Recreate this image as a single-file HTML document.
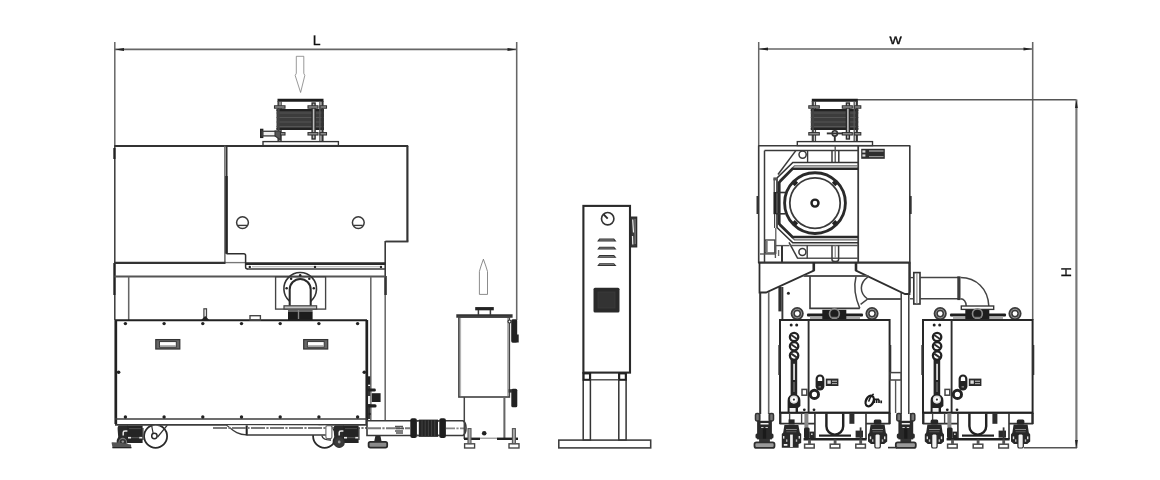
<!DOCTYPE html>
<html lang="en">
<head>
<meta charset="utf-8">
<title>Dimension drawing</title>
<style>
html,body{margin:0;padding:0;background:#fff;}
body{width:1160px;height:480px;overflow:hidden;font-family:"Liberation Sans",sans-serif;}
svg{display:block;filter:grayscale(1) blur(0.45px);}
svg text{text-rendering:geometricPrecision;font-family:"Liberation Sans",sans-serif;}
</style>
</head>
<body>
<svg width="1160" height="480" viewBox="0 0 1160 480">
<rect x="0" y="0" width="1160" height="480" fill="#fff"/>
<line x1="114.8" y1="42" x2="114.8" y2="146" stroke="#666" stroke-width="1.5" />
<line x1="516.7" y1="42" x2="516.7" y2="320" stroke="#666" stroke-width="1.56" />
<line x1="115" y1="49.4" x2="516.5" y2="49.4" stroke="#666" stroke-width="1.63" />
<path d="M115.3 49.4 L124 47.9 L124 50.9 Z" stroke="#3a3a3a" stroke-width="0.0" fill="#222" />
<path d="M516.2 49.4 L507.5 47.9 L507.5 50.9 Z" stroke="#3a3a3a" stroke-width="0.0" fill="#222" />
<text x="316.7" y="44.5" font-size="14" text-anchor="middle" fill="#111" stroke="#111" stroke-width="0.3">L</text>
<path d="M296.3 56.3 H303.8 V73.3 L304.8 75.5 L300.6 92.5 L295.2 75.5 L296.3 73.3 Z" stroke="#777" stroke-width="0.75" fill="none" />
<path d="M479.4 294.4 V271.5 L481 266 L483.4 259.2 L485.8 266 L487.5 271.5 V294.4 Z" stroke="#666" stroke-width="0.75" fill="none" />
<line x1="277.5" y1="100.3" x2="323.5" y2="100.3" stroke="#1e1e1e" stroke-width="2.99" />
<rect x="276.5" y="109.5" width="47.5" height="20" stroke="#3a3a3a" stroke-width="0.0" fill="#3c3c3c" />
<line x1="276.5" y1="113" x2="324.0" y2="113" stroke="#555" stroke-width="1.09" />
<line x1="276.5" y1="117.5" x2="324.0" y2="117.5" stroke="#555" stroke-width="1.09" />
<line x1="276.5" y1="122" x2="324.0" y2="122" stroke="#555" stroke-width="1.09" />
<line x1="276.5" y1="126.5" x2="324.0" y2="126.5" stroke="#555" stroke-width="1.09" />
<line x1="276.5" y1="110" x2="324.0" y2="110" stroke="#222" stroke-width="1.9" />
<line x1="276.5" y1="129" x2="324.0" y2="129" stroke="#222" stroke-width="1.9" />
<line x1="278.5" y1="101" x2="278.5" y2="141" stroke="#444" stroke-width="2.18" />
<line x1="281.1" y1="101" x2="281.1" y2="109" stroke="#444" stroke-width="1.36" />
<line x1="281.1" y1="130" x2="281.1" y2="141" stroke="#444" stroke-width="1.36" />
<rect x="312.1" y="103" width="3" height="36" stroke="#2a2a2a" stroke-width="1.36" fill="#bbb" />
<line x1="322.5" y1="101" x2="322.5" y2="141" stroke="#333" stroke-width="2.18" />
<line x1="319.9" y1="101" x2="319.9" y2="141" stroke="#555" stroke-width="1.36" />
<rect x="274.5" y="105.8" width="10.5" height="2.4" stroke="#333" stroke-width="1.09" fill="#999" />
<rect x="308.0" y="105.8" width="10" height="2.4" stroke="#333" stroke-width="1.09" fill="#999" />
<rect x="320.0" y="105.8" width="6.5" height="2.4" stroke="#333" stroke-width="1.09" fill="#999" />
<rect x="274.5" y="132.60000000000002" width="10.5" height="2.4" stroke="#333" stroke-width="1.09" fill="#999" />
<rect x="308.0" y="132.60000000000002" width="10" height="2.4" stroke="#333" stroke-width="1.09" fill="#999" />
<rect x="320.0" y="132.60000000000002" width="6.5" height="2.4" stroke="#333" stroke-width="1.09" fill="#999" />
<rect x="260.7" y="129.4" width="2" height="8" stroke="#222" stroke-width="1.36" fill="#444" />
<rect x="262.9" y="131.3" width="13.5" height="4.6" stroke="#444" stroke-width="1.36" fill="#eee" />
<path d="M275.0 131 L280.5 131 L280.5 140 L275.0 136 Z" stroke="#333" stroke-width="1.09" fill="#555" />
<rect x="263" y="141.6" width="75.4" height="4" stroke="#333" stroke-width="1.36" fill="#fff" />
<line x1="114.3" y1="146" x2="408.2" y2="146" stroke="#333" stroke-width="1.77" />
<line x1="114.8" y1="145.7" x2="114.8" y2="320" stroke="#3a3a3a" stroke-width="1.5" />
<line x1="114.4" y1="148" x2="114.4" y2="159" stroke="#222" stroke-width="2.18" />
<line x1="114.4" y1="263" x2="114.4" y2="295" stroke="#222" stroke-width="2.18" />
<line x1="224.9" y1="145.7" x2="224.9" y2="263" stroke="#666" stroke-width="1.5" />
<line x1="226.7" y1="145.7" x2="226.7" y2="253.7" stroke="#333" stroke-width="1.63" />
<line x1="226.5" y1="176" x2="226.5" y2="253.7" stroke="#262626" stroke-width="2.45" />
<line x1="225" y1="262.6" x2="245" y2="262.6" stroke="#777" stroke-width="1.36" />
<line x1="407.4" y1="146" x2="407.4" y2="241.5" stroke="#333" stroke-width="2.18" />
<line x1="385.4" y1="241.5" x2="408.4" y2="241.5" stroke="#3a3a3a" stroke-width="1.9" />
<line x1="385.2" y1="241" x2="385.2" y2="277" stroke="#3a3a3a" stroke-width="1.63" />
<line x1="385.2" y1="277" x2="385.2" y2="421" stroke="#6a6a6a" stroke-width="1.56" />
<line x1="385.6" y1="276" x2="385.6" y2="295" stroke="#333" stroke-width="2.45" />
<circle cx="242.5" cy="222.6" r="5.9" stroke="#3a3a3a" stroke-width="1.5" fill="none"/>
<line x1="238" y1="225.4" x2="247" y2="225.4" stroke="#3a3a3a" stroke-width="1.36" />
<circle cx="358.3" cy="222.6" r="5.9" stroke="#3a3a3a" stroke-width="1.5" fill="none"/>
<line x1="353.8" y1="225.4" x2="362.8" y2="225.4" stroke="#3a3a3a" stroke-width="1.36" />
<path d="M226.5 253.7 H243.8 Q245.6 253.7 245.6 255.5 V267 Q245.6 269 247.6 269" stroke="#2e2e2e" stroke-width="1.5" fill="none" />
<line x1="245.6" y1="263.6" x2="385.5" y2="263.6" stroke="#2a2a2a" stroke-width="2.72" />
<line x1="247" y1="269" x2="385.5" y2="269" stroke="#3a3a3a" stroke-width="1.63" />
<line x1="252" y1="266.8" x2="380" y2="266.8" stroke="#aaa" stroke-width="1.09" />
<circle cx="249.8" cy="266.9" r="1.2" stroke="#3a3a3a" stroke-width="0.0" fill="#222"/>
<circle cx="315" cy="266.9" r="1.2" stroke="#3a3a3a" stroke-width="0.0" fill="#222"/>
<circle cx="381" cy="266.9" r="1.2" stroke="#3a3a3a" stroke-width="0.0" fill="#222"/>
<line x1="114" y1="262.8" x2="225.5" y2="262.8" stroke="#333" stroke-width="2.18" />
<line x1="114.5" y1="276.4" x2="385.5" y2="276.4" stroke="#555" stroke-width="2.04" />
<line x1="128.7" y1="276.7" x2="128.7" y2="320" stroke="#666" stroke-width="1.56" />
<line x1="370.8" y1="276.7" x2="370.8" y2="421" stroke="#6a6a6a" stroke-width="1.56" />
<rect x="275.6" y="276.7" width="50" height="32.4" stroke="#444" stroke-width="1.36" fill="none" />
<path d="M289.72 301.29 A16.3 16.3 0 1 1 310.68 301.29" stroke="#333" stroke-width="1.63" fill="none" />
<path d="M289.7 306 V289.4 A10.5 10.5 0 0 1 310.7 289.4 V306" stroke="#2a2a2a" stroke-width="2.04" fill="none" />
<circle cx="300.2" cy="275.2" r="1.25" stroke="#3a3a3a" stroke-width="0.0" fill="#222"/>
<circle cx="309.3" cy="278.69" r="1.25" stroke="#3a3a3a" stroke-width="0.0" fill="#222"/>
<circle cx="291.1" cy="278.69" r="1.25" stroke="#3a3a3a" stroke-width="0.0" fill="#222"/>
<circle cx="313.79" cy="288.33" r="1.25" stroke="#3a3a3a" stroke-width="0.0" fill="#222"/>
<circle cx="286.61" cy="288.33" r="1.25" stroke="#3a3a3a" stroke-width="0.0" fill="#222"/>
<rect x="284" y="305.8" width="32.6" height="3.2" stroke="#444" stroke-width="1.22" fill="#c4c4c4" />
<rect x="288" y="309.6" width="24.6" height="2.6" stroke="#3a3a3a" stroke-width="0.0" fill="#666" />
<rect x="288" y="312" width="24.6" height="8" stroke="#3a3a3a" stroke-width="0.0" fill="#1c1c1c" />
<line x1="298.5" y1="310" x2="298.5" y2="319" stroke="#888" stroke-width="1.36" />
<line x1="115" y1="320.2" x2="367" y2="320.2" stroke="#222" stroke-width="1.97" />
<line x1="115.8" y1="320" x2="115.8" y2="424" stroke="#222" stroke-width="2.72" />
<line x1="366.8" y1="320" x2="366.8" y2="424" stroke="#222" stroke-width="2.72" />
<line x1="115" y1="419" x2="367" y2="419" stroke="#3c3c3c" stroke-width="1.56" />
<line x1="115" y1="424.9" x2="367" y2="424.9" stroke="#3c3c3c" stroke-width="1.56" />
<circle cx="125.4" cy="323.6" r="1.7" stroke="#3a3a3a" stroke-width="0.0" fill="#222"/>
<circle cx="125.4" cy="417" r="1.7" stroke="#3a3a3a" stroke-width="0.0" fill="#222"/>
<circle cx="164.1" cy="323.6" r="1.7" stroke="#3a3a3a" stroke-width="0.0" fill="#222"/>
<circle cx="164.1" cy="417" r="1.7" stroke="#3a3a3a" stroke-width="0.0" fill="#222"/>
<circle cx="202.8" cy="323.6" r="1.7" stroke="#3a3a3a" stroke-width="0.0" fill="#222"/>
<circle cx="202.8" cy="417" r="1.7" stroke="#3a3a3a" stroke-width="0.0" fill="#222"/>
<circle cx="241.5" cy="323.6" r="1.7" stroke="#3a3a3a" stroke-width="0.0" fill="#222"/>
<circle cx="241.5" cy="417" r="1.7" stroke="#3a3a3a" stroke-width="0.0" fill="#222"/>
<circle cx="280.2" cy="323.6" r="1.7" stroke="#3a3a3a" stroke-width="0.0" fill="#222"/>
<circle cx="280.2" cy="417" r="1.7" stroke="#3a3a3a" stroke-width="0.0" fill="#222"/>
<circle cx="318.9" cy="323.6" r="1.7" stroke="#3a3a3a" stroke-width="0.0" fill="#222"/>
<circle cx="318.9" cy="417" r="1.7" stroke="#3a3a3a" stroke-width="0.0" fill="#222"/>
<circle cx="357.6" cy="323.6" r="1.7" stroke="#3a3a3a" stroke-width="0.0" fill="#222"/>
<circle cx="357.6" cy="417" r="1.7" stroke="#3a3a3a" stroke-width="0.0" fill="#222"/>
<circle cx="118.6" cy="372.3" r="1.8" stroke="#3a3a3a" stroke-width="0.0" fill="#222"/>
<circle cx="364.3" cy="372.3" r="1.8" stroke="#3a3a3a" stroke-width="0.0" fill="#222"/>
<rect x="155.8" y="339.6" width="24" height="9.4" stroke="#333" stroke-width="1.22" fill="#666" />
<rect x="159.5" y="341.6" width="16.8" height="5.4" stroke="#333" stroke-width="0.95" fill="#fff" />
<line x1="159.9" y1="345.8" x2="175.9" y2="345.8" stroke="#aaa" stroke-width="1.36" />
<rect x="303.7" y="339.6" width="24" height="9.4" stroke="#333" stroke-width="1.22" fill="#666" />
<rect x="307.4" y="341.6" width="16.8" height="5.4" stroke="#333" stroke-width="0.95" fill="#fff" />
<line x1="307.8" y1="345.8" x2="323.8" y2="345.8" stroke="#aaa" stroke-width="1.36" />
<rect x="203.9" y="308.8" width="2.6" height="10" stroke="#444" stroke-width="1.22" fill="#eee" />
<path d="M201.2 320 L205.2 316 L209.2 320 Z" stroke="#3a3a3a" stroke-width="0.0" fill="#222" />
<rect x="250" y="315.7" width="10.4" height="4.5" stroke="#444" stroke-width="1.36" fill="none" />
<clipPath id="cw"><rect x="100" y="425.2" width="300" height="30"/></clipPath>
<g clip-path="url(#cw)">
<circle cx="155.6" cy="436.3" r="11.5" stroke="#2a2a2a" stroke-width="1.77" fill="#fff"/>
<path d="M151.5 425 L153.2 433.6 M167.4 425 L157.6 437" stroke="#333" stroke-width="1.22" fill="none" />
<circle cx="154.4" cy="436" r="2.7" stroke="#2a2a2a" stroke-width="1.5" fill="#fff"/>
<circle cx="324.6" cy="436.3" r="11.5" stroke="#2a2a2a" stroke-width="1.77" fill="#fff"/>
</g>
<path d="M226.5 425.2 C232 429 236 434.8 246.6 434.9 H327 V425.4 Z" stroke="#3a3a3a" stroke-width="0.0" fill="#fff" />
<path d="M226.5 425.2 C232 429 236 434.8 246.6 434.9" stroke="#3a3a3a" stroke-width="1.22" fill="none" />
<line x1="246.7" y1="425.4" x2="246.7" y2="435.4" stroke="#222" stroke-width="2.04" />
<line x1="246.6" y1="435" x2="327" y2="435" stroke="#3a3a3a" stroke-width="1.29" />
<line x1="213" y1="427.9" x2="367" y2="427.9" stroke="#7a7a7a" stroke-width="2.04" stroke-dasharray="14 1.4 2.2 1.4"/>
<g transform="translate(0 0)">
<path d="M127.5 425.6 H119.5 Q117.4 426 117.6 429 L118.2 437 Q116 440 116.6 443.5 L127.5 443.5 Z" stroke="#3a3a3a" stroke-width="0.0" fill="#2a2a2a" />
<rect x="127" y="425.6" width="15.6" height="17.4" stroke="#3a3a3a" stroke-width="0.0" fill="#242424" />
<rect x="142" y="428" width="1.6" height="12" stroke="#3a3a3a" stroke-width="0.0" fill="#444" />
<line x1="129" y1="428.6" x2="141" y2="428.6" stroke="#555" stroke-width="0.82" />
<path d="M123.2 435.6 V432.6 Q123.2 431 125 431 H127.4" stroke="#e8e8e8" stroke-width="1.5" fill="none" />
<rect x="128" y="436.9" width="3" height="1.6" stroke="#3a3a3a" stroke-width="0.0" fill="#e8e8e8" />
<rect x="139.2" y="436.9" width="3" height="1.6" stroke="#3a3a3a" stroke-width="0.0" fill="#e8e8e8" />
<line x1="131" y1="437.7" x2="139.2" y2="437.7" stroke="#666" stroke-width="0.82" />
<circle cx="122.8" cy="442.2" r="3.8" stroke="#777" stroke-width="1.09" fill="#333"/>
<circle cx="122.8" cy="441.6" r="1.2" stroke="#3a3a3a" stroke-width="0.0" fill="#999"/>
<path d="M111.6 443 Q111.2 442.2 112.4 442.2 L118 442.6 L131 444.5 L131.3 447.9 H112.6 Z" stroke="#3a3a3a" stroke-width="0.0" fill="#555" />
<line x1="112.4" y1="447.7" x2="131.4" y2="447.7" stroke="#222" stroke-width="1.22" />
</g>
<path d="M321.8 435.6 Q323 440.2 331 440" stroke="#333" stroke-width="1.36" fill="none" />
<rect x="325.9" y="425.6" width="6" height="13" stroke="#666" stroke-width="1.09" fill="#fff" rx="1.5"/>
<g transform="translate(216 0)">
<path d="M127.5 425.6 H119.5 Q117.4 426 117.6 429 L118.2 437 Q116 440 116.6 443.5 L127.5 443.5 Z" stroke="#3a3a3a" stroke-width="0.0" fill="#2a2a2a" />
<rect x="127" y="425.6" width="15.6" height="17.4" stroke="#3a3a3a" stroke-width="0.0" fill="#242424" />
<rect x="142" y="428" width="1.6" height="12" stroke="#3a3a3a" stroke-width="0.0" fill="#444" />
<line x1="129" y1="428.6" x2="141" y2="428.6" stroke="#555" stroke-width="0.82" />
<path d="M123.2 435.6 V432.6 Q123.2 431 125 431 H127.4" stroke="#e8e8e8" stroke-width="1.5" fill="none" />
<rect x="128" y="436.9" width="3" height="1.6" stroke="#3a3a3a" stroke-width="0.0" fill="#e8e8e8" />
<rect x="139.2" y="436.9" width="3" height="1.6" stroke="#3a3a3a" stroke-width="0.0" fill="#e8e8e8" />
<line x1="131" y1="437.7" x2="139.2" y2="437.7" stroke="#666" stroke-width="0.82" />
<circle cx="122.8" cy="442.2" r="3.8" stroke="#777" stroke-width="1.09" fill="#333"/>
<circle cx="122.8" cy="441.6" r="1.2" stroke="#3a3a3a" stroke-width="0.0" fill="#999"/>
</g>
<circle cx="339.2" cy="442.4" r="5" stroke="#333" stroke-width="1.22" fill="#3a3a3a"/>
<circle cx="339.2" cy="442" r="1.4" stroke="#3a3a3a" stroke-width="0.0" fill="#999"/>
<path d="M367 420.8 H463 Q466 422.5 466 428 Q466 433.5 463 435.5 H367 Z" stroke="#3a3a3a" stroke-width="1.63" fill="#fff" />
<line x1="367" y1="428.3" x2="410" y2="428.3" stroke="#7a7a7a" stroke-width="2.04" stroke-dasharray="14 1.4 2.2 1.4"/>
<line x1="446" y1="428.3" x2="464" y2="428.3" stroke="#888" stroke-width="1.77" stroke-dasharray="9 1.4 2.2 1.4"/>
<path d="M395 426.5 h8 M396 428.5 h8 M395 431 h8 M396 433 h7" stroke="#555" stroke-width="1.36" fill="none" />
<rect x="410.3" y="418.3" width="6.6" height="19.8" stroke="#3a3a3a" stroke-width="0.0" fill="#1e1e1e" rx="2"/>
<rect x="439.3" y="418.3" width="6.6" height="19.8" stroke="#3a3a3a" stroke-width="0.0" fill="#1e1e1e" rx="2"/>
<rect x="418.8" y="419.6" width="19.2" height="17.2" stroke="#3a3a3a" stroke-width="0.0" fill="#242424" />
<line x1="422" y1="420.4" x2="422" y2="436" stroke="#444" stroke-width="0.95" />
<line x1="425.2" y1="420.4" x2="425.2" y2="436" stroke="#444" stroke-width="0.95" />
<line x1="428.4" y1="420.4" x2="428.4" y2="436" stroke="#444" stroke-width="0.95" />
<line x1="431.6" y1="420.4" x2="431.6" y2="436" stroke="#444" stroke-width="0.95" />
<line x1="434.8" y1="420.4" x2="434.8" y2="436" stroke="#444" stroke-width="0.95" />
<line x1="416.6" y1="421" x2="418.5" y2="421" stroke="#444" stroke-width="1.36" />
<line x1="416.6" y1="435.4" x2="418.5" y2="435.4" stroke="#444" stroke-width="1.36" />
<line x1="438" y1="421" x2="439.6" y2="421" stroke="#444" stroke-width="1.36" />
<line x1="438" y1="435.4" x2="439.6" y2="435.4" stroke="#444" stroke-width="1.36" />
<path d="M375.4 435.8 H380.4 L381.6 441.6 H374.2 Z" stroke="#3a3a3a" stroke-width="0.0" fill="#2a2a2a" />
<rect x="368.6" y="441.8" width="18.6" height="5.8" stroke="#2a2a2a" stroke-width="1.77" fill="#8a8a8a" rx="1.8"/>
<rect x="367.6" y="376.3" width="2.6" height="8.4" stroke="#3a3a3a" stroke-width="0.0" fill="#222" />
<rect x="368" y="386" width="2" height="33" stroke="#3a3a3a" stroke-width="0.0" fill="#333" />
<rect x="368" y="388.6" width="7.8" height="2.8" stroke="#3a3a3a" stroke-width="0.0" fill="#222" rx="1.2"/>
<rect x="371.8" y="393.2" width="8.8" height="8.8" stroke="#3a3a3a" stroke-width="0.0" fill="#222" />
<rect x="368" y="396" width="2.2" height="8" stroke="#3a3a3a" stroke-width="0.0" fill="#eee" />
<rect x="368" y="404.2" width="8.6" height="3.4" stroke="#3a3a3a" stroke-width="0.0" fill="#222" rx="1.6"/>
<circle cx="369.6" cy="414" r="1.2" stroke="#3a3a3a" stroke-width="0.0" fill="#222"/>
<line x1="456.3" y1="316" x2="512.6" y2="316" stroke="#333" stroke-width="3.26" />
<line x1="475.2" y1="308.7" x2="493.8" y2="308.7" stroke="#222" stroke-width="3.26" />
<line x1="478.4" y1="310" x2="478.4" y2="315" stroke="#3a3a3a" stroke-width="1.5" />
<line x1="490.4" y1="310" x2="490.4" y2="315" stroke="#3a3a3a" stroke-width="1.5" />
<rect x="458.9" y="317" width="50.4" height="80" stroke="#444" stroke-width="1.63" fill="none" />
<line x1="460.6" y1="318" x2="460.6" y2="396" stroke="#aaa" stroke-width="0.95" />
<line x1="507.6" y1="318" x2="507.6" y2="396" stroke="#aaa" stroke-width="0.95" />
<rect x="511.2" y="319.3" width="6" height="23.3" stroke="#3a3a3a" stroke-width="0.0" fill="#222" rx="1.5"/>
<rect x="512.3" y="334.5" width="6.4" height="8" stroke="#3a3a3a" stroke-width="0.0" fill="#222" />
<circle cx="509.5" cy="321.5" r="1.5" stroke="#333" stroke-width="1.22" fill="#fff"/>
<rect x="511.3" y="388.8" width="6" height="18.5" stroke="#3a3a3a" stroke-width="0.0" fill="#222" rx="1.5"/>
<rect x="508.6" y="389.2" width="3.5" height="3.4" stroke="#3a3a3a" stroke-width="0.0" fill="#333" />
<line x1="464.3" y1="397" x2="464.3" y2="439" stroke="#444" stroke-width="1.5" />
<line x1="504.4" y1="397" x2="504.4" y2="439" stroke="#666" stroke-width="2.04" />
<line x1="464" y1="438.8" x2="480" y2="438.8" stroke="#222" stroke-width="2.45" />
<line x1="497" y1="438.8" x2="518" y2="438.8" stroke="#222" stroke-width="2.45" />
<line x1="480" y1="438.2" x2="497" y2="438.2" stroke="#888" stroke-width="1.09" />
<circle cx="484.2" cy="433.3" r="2.3" stroke="#3a3a3a" stroke-width="0.0" fill="#222"/>
<rect x="464.6" y="443.8" width="10" height="4.2" stroke="#444" stroke-width="1.36" fill="#fff" />
<rect x="468.0" y="428.6" width="3" height="15" stroke="#555" stroke-width="1.09" fill="#aaa" />
<rect x="509" y="443.8" width="10" height="4.2" stroke="#444" stroke-width="1.36" fill="#fff" />
<rect x="512.4" y="428.6" width="3" height="15" stroke="#555" stroke-width="1.09" fill="#aaa" />
<rect x="583.4" y="205.9" width="46.6" height="166.7" stroke="#2a2a2a" stroke-width="2.11" fill="none" />
<circle cx="607.7" cy="218.7" r="6.2" stroke="#333" stroke-width="1.63" fill="none"/>
<line x1="607.7" y1="218.7" x2="603.6" y2="214.4" stroke="#2a2a2a" stroke-width="1.9" />
<path d="M598.2 240.9 L599.6 239.1 H613.8 L615.4 240.9 Z" stroke="#333" stroke-width="1.02" fill="#888" />
<path d="M598.2 249.0 L599.6 247.2 H613.8 L615.4 249.0 Z" stroke="#333" stroke-width="1.02" fill="#888" />
<path d="M598.2 257.2 L599.6 255.4 H613.8 L615.4 257.2 Z" stroke="#333" stroke-width="1.02" fill="#888" />
<path d="M598.2 265.5 L599.6 263.70000000000005 H613.8 L615.4 265.5 Z" stroke="#333" stroke-width="1.02" fill="#888" />
<rect x="593.5" y="287.8" width="26" height="24.6" stroke="#3a3a3a" stroke-width="0.0" fill="#2a2a2a" rx="1.5"/>
<rect x="598" y="292" width="17" height="16" stroke="#3c3c3c" stroke-width="0.82" fill="#333" />
<rect x="630.8" y="217.2" width="5.8" height="29.6" stroke="#2a2a2a" stroke-width="1.36" fill="#3a3a3a" />
<path d="M632.7 219.5 L633.5 232.5 M632.5 236 L632.8 244.6" stroke="#eee" stroke-width="1.22" fill="none" />
<path d="M635 219 L635.2 244" stroke="#999" stroke-width="0.82" fill="none" />
<rect x="583.2" y="372.8" width="7.2" height="67.3" stroke="#333" stroke-width="1.5" fill="none" />
<rect x="618.8" y="372.8" width="7.3" height="67.3" stroke="#333" stroke-width="1.5" fill="none" />
<rect x="583.6" y="373.4" width="6.4" height="6.4" stroke="#222" stroke-width="2.04" fill="none" />
<rect x="619.2" y="373.4" width="6.6" height="6.4" stroke="#222" stroke-width="2.04" fill="none" />
<line x1="590.4" y1="379.8" x2="618.8" y2="379.8" stroke="#444" stroke-width="1.36" />
<rect x="558.8" y="440.1" width="91.9" height="7.8" stroke="#3c3c3c" stroke-width="1.56" fill="none" />
<line x1="758.7" y1="42" x2="758.7" y2="146" stroke="#666" stroke-width="1.5" />
<line x1="1032.7" y1="42" x2="1032.7" y2="320" stroke="#666" stroke-width="1.56" />
<line x1="759" y1="49" x2="1032.5" y2="49" stroke="#666" stroke-width="1.63" />
<path d="M759.2 49 L768 47.5 L768 50.5 Z" stroke="#3a3a3a" stroke-width="0.0" fill="#222" />
<path d="M1032.2 49 L1023.5 47.5 L1023.5 50.5 Z" stroke="#3a3a3a" stroke-width="0.0" fill="#222" />
<text x="895.5" y="44.3" font-size="14" text-anchor="middle" fill="#111" stroke="#111" stroke-width="0.3" textLength="12.2" lengthAdjust="spacingAndGlyphs">w</text>
<line x1="857" y1="99.8" x2="1076.5" y2="99.8" stroke="#555" stroke-width="1.5" />
<line x1="1076.4" y1="99.5" x2="1076.4" y2="448" stroke="#777" stroke-width="2.18" />
<line x1="1024" y1="447.8" x2="1077" y2="447.8" stroke="#555" stroke-width="1.5" />
<path d="M1076.4 100 L1075 108 L1077.8 108 Z" stroke="#3a3a3a" stroke-width="0.0" fill="#222" />
<path d="M1076.4 448 L1075 440 L1077.8 440 Z" stroke="#3a3a3a" stroke-width="0.0" fill="#222" />
<text transform="translate(1071.3 272.3) rotate(-90)" font-size="14" text-anchor="middle" fill="#111" stroke="#111" stroke-width="0.3">H</text>
<line x1="811.8" y1="100.3" x2="857.8" y2="100.3" stroke="#1e1e1e" stroke-width="2.99" />
<rect x="810.8" y="109.5" width="47.5" height="20" stroke="#3a3a3a" stroke-width="0.0" fill="#3c3c3c" />
<line x1="810.8" y1="113" x2="858.3" y2="113" stroke="#555" stroke-width="1.09" />
<line x1="810.8" y1="117.5" x2="858.3" y2="117.5" stroke="#555" stroke-width="1.09" />
<line x1="810.8" y1="122" x2="858.3" y2="122" stroke="#555" stroke-width="1.09" />
<line x1="810.8" y1="126.5" x2="858.3" y2="126.5" stroke="#555" stroke-width="1.09" />
<line x1="810.8" y1="110" x2="858.3" y2="110" stroke="#222" stroke-width="1.9" />
<line x1="810.8" y1="129" x2="858.3" y2="129" stroke="#222" stroke-width="1.9" />
<line x1="812.8" y1="101" x2="812.8" y2="141" stroke="#444" stroke-width="2.18" />
<line x1="815.4" y1="101" x2="815.4" y2="109" stroke="#444" stroke-width="1.36" />
<line x1="815.4" y1="130" x2="815.4" y2="141" stroke="#444" stroke-width="1.36" />
<rect x="846.4" y="103" width="3" height="36" stroke="#2a2a2a" stroke-width="1.36" fill="#bbb" />
<line x1="856.8" y1="101" x2="856.8" y2="141" stroke="#333" stroke-width="2.18" />
<line x1="854.1999999999999" y1="101" x2="854.1999999999999" y2="141" stroke="#555" stroke-width="1.36" />
<rect x="808.8" y="105.8" width="10.5" height="2.4" stroke="#333" stroke-width="1.09" fill="#999" />
<rect x="842.3" y="105.8" width="10" height="2.4" stroke="#333" stroke-width="1.09" fill="#999" />
<rect x="854.3" y="105.8" width="6.5" height="2.4" stroke="#333" stroke-width="1.09" fill="#999" />
<rect x="808.8" y="132.60000000000002" width="10.5" height="2.4" stroke="#333" stroke-width="1.09" fill="#999" />
<rect x="842.3" y="132.60000000000002" width="10" height="2.4" stroke="#333" stroke-width="1.09" fill="#999" />
<rect x="854.3" y="132.60000000000002" width="6.5" height="2.4" stroke="#333" stroke-width="1.09" fill="#999" />
<circle cx="834.8" cy="133.4" r="2.6" stroke="#333" stroke-width="1.63" fill="#eee"/>
<line x1="826.8" y1="133.4" x2="842.8" y2="133.4" stroke="#333" stroke-width="1.9" />
<line x1="834.8" y1="136" x2="834.8" y2="141" stroke="#333" stroke-width="1.9" />
<rect x="797.3" y="141.6" width="75.2" height="4" stroke="#333" stroke-width="1.36" fill="#fff" />
<line x1="758.3" y1="145.7" x2="910.3" y2="145.7" stroke="#3a3a3a" stroke-width="1.63" />
<line x1="758.7" y1="145.7" x2="758.7" y2="263" stroke="#3a3a3a" stroke-width="1.63" />
<line x1="909.8" y1="145.7" x2="909.8" y2="263" stroke="#3a3a3a" stroke-width="1.63" />
<line x1="858.2" y1="145.7" x2="858.2" y2="263" stroke="#3a3a3a" stroke-width="1.77" />
<line x1="758.3" y1="262.6" x2="910.3" y2="262.6" stroke="#333" stroke-width="2.18" />
<line x1="764.5" y1="150.6" x2="858" y2="150.6" stroke="#3a3a3a" stroke-width="1.5" />
<line x1="764.5" y1="150.6" x2="764.5" y2="262" stroke="#3a3a3a" stroke-width="1.5" />
<line x1="757.6" y1="196" x2="757.6" y2="214" stroke="#333" stroke-width="2.18" />
<line x1="910.6" y1="196" x2="910.6" y2="214" stroke="#333" stroke-width="2.18" />
<line x1="795.8" y1="150.6" x2="778" y2="174.5" stroke="#3a3a3a" stroke-width="1.5" />
<circle cx="802.6" cy="154.6" r="3.6" stroke="#3a3a3a" stroke-width="1.5" fill="none"/>
<line x1="807.6" y1="150.6" x2="807.6" y2="162.5" stroke="#3a3a3a" stroke-width="1.36" />
<line x1="832" y1="150.6" x2="832" y2="162.5" stroke="#3a3a3a" stroke-width="1.5" />
<line x1="835.2" y1="145.7" x2="835.2" y2="162.5" stroke="#555" stroke-width="1.36" />
<line x1="838.8" y1="150.6" x2="838.8" y2="162.5" stroke="#3a3a3a" stroke-width="1.5" />
<path d="M858 162.5 H792.8 L777 178 V227.5 L792.8 242.8 H858" stroke="#333" stroke-width="1.63" fill="none" />
<path d="M858 165.8 H794.5 L780 180 V226 L794.5 239.8 H858" stroke="#666" stroke-width="1.22" fill="none" />
<path d="M858 168.8 H792.5 L779 182.5 V223.6 L792.5 237 H858" stroke="#2a2a2a" stroke-width="2.58" fill="none" />
<line x1="774.8" y1="192" x2="774.8" y2="214.2" stroke="#222" stroke-width="2.72" />
<line x1="774.2" y1="178.5" x2="774.2" y2="192" stroke="#444" stroke-width="1.22" />
<line x1="774.6" y1="214" x2="774.6" y2="228" stroke="#444" stroke-width="1.22" />
<line x1="775.8" y1="228" x2="775.8" y2="254" stroke="#555" stroke-width="1.22" />
<rect x="773.4" y="177.4" width="3" height="3" stroke="#3a3a3a" stroke-width="0.0" fill="#555" />
<line x1="776" y1="213.8" x2="785" y2="213.8" stroke="#333" stroke-width="1.63" />
<line x1="776" y1="192.5" x2="785" y2="192.5" stroke="#333" stroke-width="1.63" />
<circle cx="815" cy="203.1" r="30.4" stroke="#2a2a2a" stroke-width="2.86" fill="none"/>
<circle cx="815" cy="203.1" r="25.2" stroke="#3a3a3a" stroke-width="1.77" fill="none"/>
<circle cx="815" cy="203.1" r="3.5" stroke="#222" stroke-width="2.45" fill="none"/>
<rect x="793.7" y="181.0" width="3.2" height="4.8" fill="#222" transform="rotate(-135 795.3 183.4)"/>
<rect x="833.1" y="181.0" width="3.2" height="4.8" fill="#222" transform="rotate(-45 834.7 183.4)"/>
<rect x="833.1" y="220.4" width="3.2" height="4.8" fill="#222" transform="rotate(45 834.7 222.8)"/>
<rect x="793.7" y="220.4" width="3.2" height="4.8" fill="#222" transform="rotate(135 795.3 222.8)"/>
<line x1="789" y1="242.4" x2="797.8" y2="258.6" stroke="#3a3a3a" stroke-width="1.5" />
<circle cx="802.4" cy="251.9" r="3.5" stroke="#3a3a3a" stroke-width="1.5" fill="none"/>
<line x1="789.5" y1="245.5" x2="858" y2="245.5" stroke="#555" stroke-width="1.5" />
<line x1="797.8" y1="258.2" x2="858" y2="258.2" stroke="#555" stroke-width="1.5" />
<line x1="807.2" y1="245.5" x2="807.2" y2="258.2" stroke="#3a3a3a" stroke-width="1.36" />
<path d="M832 245.5 V259.4 Q832 261.6 835.2 261.6 Q838.6 261.6 838.6 259.4 V245.5" stroke="#3a3a3a" stroke-width="1.5" fill="none" />
<line x1="835.2" y1="245.5" x2="835.2" y2="258" stroke="#888" stroke-width="1.09" />
<rect x="765.2" y="240" width="9.6" height="13" stroke="#444" stroke-width="1.36" fill="none" />
<line x1="766.6" y1="241" x2="766.6" y2="252" stroke="#777" stroke-width="2.18" />
<line x1="760" y1="254" x2="775.4" y2="254" stroke="#555" stroke-width="1.36" />
<line x1="775.4" y1="245.6" x2="775.4" y2="258" stroke="#555" stroke-width="1.36" />
<line x1="775.4" y1="245.6" x2="789" y2="245.6" stroke="#555" stroke-width="1.36" />
<line x1="782" y1="246" x2="782" y2="262" stroke="#333" stroke-width="2.04" />
<line x1="778.6" y1="250" x2="778.6" y2="256" stroke="#666" stroke-width="1.36" />
<rect x="861.2" y="148.8" width="23.6" height="10" stroke="#3a3a3a" stroke-width="0.0" fill="#2e2e2e" />
<rect x="862.4" y="150.4" width="3" height="2.2" stroke="#3a3a3a" stroke-width="0.0" fill="#ddd" />
<rect x="862.4" y="154.4" width="3" height="2.2" stroke="#3a3a3a" stroke-width="0.0" fill="#ddd" />
<line x1="869" y1="151" x2="883.5" y2="151" stroke="#bbb" stroke-width="1.09" />
<line x1="869" y1="156.6" x2="883.5" y2="156.6" stroke="#999" stroke-width="1.09" />
<path d="M759.5 262.6 V292.5 H766 L813.8 270.6 V262.6" stroke="#2e2e2e" stroke-width="1.77" fill="none" />
<path d="M909.5 262.6 V294 H905 L856 270.6 V262.6" stroke="#2e2e2e" stroke-width="1.77" fill="none" />
<line x1="813.8" y1="262.6" x2="813.8" y2="270.8" stroke="#2a2a2a" stroke-width="2.58" />
<line x1="856" y1="262.6" x2="856" y2="270.8" stroke="#2a2a2a" stroke-width="2.58" />
<line x1="768.7" y1="292" x2="768.7" y2="414" stroke="#666" stroke-width="1.63" />
<line x1="760.2" y1="292.5" x2="760.2" y2="414" stroke="#333" stroke-width="2.04" />
<line x1="901.2" y1="292.5" x2="901.2" y2="414" stroke="#3a3a3a" stroke-width="1.5" />
<line x1="908.8" y1="292.5" x2="908.8" y2="414" stroke="#3a3a3a" stroke-width="1.5" />
<line x1="909.6" y1="262.6" x2="909.6" y2="292.5" stroke="#333" stroke-width="2.18" />
<path d="M803.6 276 H868.4" stroke="#555" stroke-width="1.77" fill="none" />
<path d="M810 276.3 V308.4 H859.8" stroke="#3a3a3a" stroke-width="1.63" fill="none" />
<path d="M856 276.5 C853.6 286 855 297 859.8 308.4" stroke="#444" stroke-width="1.5" fill="none" />
<path d="M868 276.8 C859.2 283 859.2 293 867.6 299 L860.6 304.4" stroke="#444" stroke-width="1.5" fill="none" />
<line x1="867.6" y1="299" x2="901" y2="299" stroke="#555" stroke-width="1.77" />
<rect x="778.4" y="287" width="3.2" height="24.4" stroke="#3a3a3a" stroke-width="0.0" fill="#2e2e2e" />
<line x1="782.4" y1="287" x2="782.4" y2="320" stroke="#383838" stroke-width="1.9" />
<circle cx="788.4" cy="293.2" r="1.5" stroke="#3a3a3a" stroke-width="0.0" fill="#2a2a2a"/>
<rect x="913.8" y="272.6" width="6.2" height="31.4" stroke="#333" stroke-width="1.63" fill="#fff" />
<line x1="916.9" y1="273" x2="916.9" y2="304" stroke="#888" stroke-width="1.09" />
<line x1="910" y1="277.6" x2="913.8" y2="277.6" stroke="#444" stroke-width="1.36" />
<line x1="910" y1="298.8" x2="913.8" y2="298.8" stroke="#444" stroke-width="1.36" />
<path d="M920 277.6 H958.5 M920 298.8 H958.5" stroke="#444" stroke-width="1.5" fill="none" />
<rect x="958" y="277" width="1.8" height="22.4" stroke="#333" stroke-width="1.36" fill="#555" />
<path d="M960.4 277.6 C976 278 988 288 988.8 306" stroke="#444" stroke-width="1.5" fill="none" />
<path d="M960.4 298.8 C964 299 966 302 966.2 306" stroke="#444" stroke-width="1.5" fill="none" />
<rect x="961.3" y="306" width="32.4" height="3.4" stroke="#333" stroke-width="1.36" fill="#fff" />
<g transform="translate(0 0)">
<rect x="794.6" y="317.6" width="5.2" height="2.4" stroke="#3a3a3a" stroke-width="0.0" fill="#333" />
<circle cx="797.2" cy="313.6" r="5.7" stroke="#3a3a3a" stroke-width="1.77" fill="#9a9a9a"/>
<circle cx="797.2" cy="313.6" r="3.1" stroke="#3a3a3a" stroke-width="1.5" fill="#fff"/>
<rect x="869.4" y="317.6" width="5.2" height="2.4" stroke="#3a3a3a" stroke-width="0.0" fill="#333" />
<circle cx="872" cy="313.6" r="5.7" stroke="#3a3a3a" stroke-width="1.77" fill="#9a9a9a"/>
<circle cx="872" cy="313.6" r="3.1" stroke="#3a3a3a" stroke-width="1.5" fill="#fff"/>
<rect x="807" y="313.6" width="56" height="2.8" stroke="#3a3a3a" stroke-width="0.0" fill="#1e1e1e" rx="1"/>
<rect x="810" y="316.4" width="50" height="3" stroke="#3a3a3a" stroke-width="0.0" fill="#aaa" />
<rect x="822.3" y="309.8" width="24" height="10.2" stroke="#3a3a3a" stroke-width="0.0" fill="#1e1e1e" />
<circle cx="834.4" cy="313.8" r="4.9" stroke="#8a8a8a" stroke-width="1.63" fill="#1e1e1e"/>
<rect x="830" y="316.8" width="9" height="1.2" stroke="#3a3a3a" stroke-width="0.0" fill="#777" />
<rect x="780" y="320" width="109.6" height="92.8" stroke="#262626" stroke-width="1.97" fill="#fff" />
<line x1="808.6" y1="320" x2="808.6" y2="413" stroke="#2e2e2e" stroke-width="1.9" />
<line x1="779.4" y1="345" x2="779.4" y2="375" stroke="#333" stroke-width="2.18" />
<line x1="890.2" y1="345" x2="890.2" y2="375" stroke="#333" stroke-width="2.18" />
<circle cx="791.2" cy="325.1" r="1.5" stroke="#3a3a3a" stroke-width="0.0" fill="#222"/>
<circle cx="796.7" cy="325.1" r="1.5" stroke="#3a3a3a" stroke-width="0.0" fill="#222"/>
<rect x="790.6" y="358" width="6.6" height="37" stroke="#3a3a3a" stroke-width="0.0" fill="#262626" />
<rect x="793.3" y="363.8" width="1.5" height="16.2" stroke="#3a3a3a" stroke-width="0.0" fill="#fff" />
<rect x="793.4" y="382" width="1.2" height="10" stroke="#3a3a3a" stroke-width="0.0" fill="#777" />
<circle cx="794.1" cy="337" r="4.2" stroke="#222" stroke-width="2.31" fill="#fff"/>
<line x1="791.2" y1="335" x2="797" y2="339" stroke="#2a2a2a" stroke-width="1.9" />
<circle cx="794.1" cy="346.3" r="4.2" stroke="#222" stroke-width="2.31" fill="#fff"/>
<line x1="791.2" y1="344.3" x2="797" y2="348.3" stroke="#2a2a2a" stroke-width="1.9" />
<circle cx="794.1" cy="355.6" r="4.2" stroke="#222" stroke-width="2.31" fill="#fff"/>
<line x1="791.2" y1="353.6" x2="797" y2="357.6" stroke="#2a2a2a" stroke-width="1.9" />
<path d="M787.6 413 V400.4 A6.4 6.4 0 0 1 800.4 400.4 V406 L798 408 V413 Z" stroke="#3a3a3a" stroke-width="0.0" fill="#222" />
<circle cx="793.9" cy="399.6" r="3.4" stroke="#ddd" stroke-width="1.36" fill="#fff"/>
<circle cx="793.9" cy="399.6" r="1.1" stroke="#3a3a3a" stroke-width="0.0" fill="#333"/>
<rect x="789.6" y="408" width="6" height="4.6" stroke="#3a3a3a" stroke-width="0.0" fill="#eee" />
<rect x="815.6" y="374.4" width="8.8" height="16.2" stroke="#3a3a3a" stroke-width="0.0" fill="#222" rx="4.4"/>
<path d="M817.8 381 V378.8 A2.2 2.2 0 0 1 822.2 378.8 V381 Z" stroke="#3a3a3a" stroke-width="0.0" fill="#fff" />
<rect x="818.6" y="386" width="2.4" height="1.6" stroke="#3a3a3a" stroke-width="0.0" fill="#777" />
<rect x="825.8" y="378.6" width="12.6" height="7.4" stroke="#3a3a3a" stroke-width="0.0" fill="#2a2a2a" />
<rect x="827.4" y="380.4" width="3.4" height="3.4" stroke="#3a3a3a" stroke-width="0.0" fill="#ddd" />
<line x1="832" y1="381.2" x2="837" y2="381.2" stroke="#ccc" stroke-width="1.09" />
<line x1="832" y1="383.6" x2="837" y2="383.6" stroke="#aaa" stroke-width="1.09" />
<circle cx="814.4" cy="394.4" r="4.1" stroke="#222" stroke-width="2.99" fill="#fff"/>
<rect x="802" y="389.4" width="4.8" height="5.8" stroke="#444" stroke-width="1.5" fill="#fff" />
<circle cx="804.3" cy="409.8" r="1.4" stroke="#3a3a3a" stroke-width="0.0" fill="#222"/>
<circle cx="814" cy="409.8" r="1.4" stroke="#3a3a3a" stroke-width="0.0" fill="#222"/>
<ellipse cx="869.7" cy="401" rx="3.7" ry="5.5" transform="rotate(26 869.7 401)" stroke="#1c1c1c" stroke-width="2.3" fill="none"/>
<path d="M868.6 401.6 Q870 396.6 873.6 393.8" stroke="#1c1c1c" stroke-width="1.63" fill="none" />
<path d="M874.2 399.2 V403 M876.6 399 V403 M879 399.4 V403 M881.2 400.4 V403.2 M874.2 399.4 H879" stroke="#1c1c1c" stroke-width="1.7" fill="none" />
<line x1="779.4" y1="412.7" x2="890.2" y2="412.7" stroke="#222" stroke-width="1.77" />
<path d="M780.4 413 V423.6 H815 M866 423.6 H889.4 V413" stroke="#333" stroke-width="1.63" fill="none" />
<line x1="780.2" y1="413" x2="780.2" y2="424" stroke="#2a2a2a" stroke-width="2.18" />
<line x1="889.6" y1="413" x2="889.6" y2="424" stroke="#2a2a2a" stroke-width="2.18" />
<line x1="789.6" y1="413" x2="789.6" y2="423.6" stroke="#444" stroke-width="1.36" />
<line x1="801.6" y1="413" x2="801.6" y2="423.6" stroke="#444" stroke-width="1.36" />
<rect x="788.6" y="419.4" width="6" height="5" stroke="#3a3a3a" stroke-width="0.0" fill="#262626" />
<path d="M784.4 425 H798.4 L799.8 432.5 L801.1999999999999 434 V443 L798.6 444 V447.8 H781.8 V434 L783.1999999999999 432.5 Z" stroke="#3a3a3a" stroke-width="0.0" fill="#282828" />
<rect x="790.1" y="434.6" width="2.7" height="12.4" stroke="#3a3a3a" stroke-width="0.0" fill="#f0f0f0" />
<rect x="786.0" y="429" width="10.8" height="1" stroke="#3a3a3a" stroke-width="0.0" fill="#8a8a8a" />
<rect x="786.4" y="431.4" width="10" height="0.8" stroke="#3a3a3a" stroke-width="0.0" fill="#666" />
<rect x="783.8" y="444" width="3.6" height="1.8" stroke="#3a3a3a" stroke-width="0.0" fill="#eee" />
<rect x="783.0" y="436" width="1.4" height="2.6" stroke="#3a3a3a" stroke-width="0.0" fill="#ddd" />
<rect x="798.6" y="436" width="1.4" height="2.6" stroke="#3a3a3a" stroke-width="0.0" fill="#ddd" />
<rect x="786.0" y="439.4" width="1.4" height="2.4" stroke="#3a3a3a" stroke-width="0.0" fill="#bbb" />
<rect x="795.8" y="439.4" width="1.4" height="2.4" stroke="#3a3a3a" stroke-width="0.0" fill="#bbb" />
<rect x="873.8000000000001" y="419.4" width="7.6" height="5" stroke="#3a3a3a" stroke-width="0.0" fill="#262626" rx="1.5"/>
<path d="M870.6 424.6 H884.6 L885.8000000000001 432.5 L887.2 434.4 V441.4 L884.2 444 H871.0 L868.0 441.4 V434.4 L869.4 432.5 Z" stroke="#3a3a3a" stroke-width="0.0" fill="#282828" />
<rect x="874.9" y="434" width="5.4" height="14" stroke="#242424" stroke-width="1.22" fill="#f2f2f2" rx="1.6"/>
<rect x="872.2" y="429" width="10.8" height="1" stroke="#3a3a3a" stroke-width="0.0" fill="#8a8a8a" />
<rect x="872.6" y="431.4" width="10" height="0.8" stroke="#3a3a3a" stroke-width="0.0" fill="#666" />
<rect x="869.8000000000001" y="436.4" width="1.4" height="2.8" stroke="#3a3a3a" stroke-width="0.0" fill="#ddd" />
<rect x="884.0" y="436.4" width="1.4" height="2.8" stroke="#3a3a3a" stroke-width="0.0" fill="#ddd" />
<rect x="872.0" y="439.4" width="1.4" height="2.4" stroke="#3a3a3a" stroke-width="0.0" fill="#bbb" />
<rect x="881.8000000000001" y="439.4" width="1.4" height="2.4" stroke="#3a3a3a" stroke-width="0.0" fill="#bbb" />
<path d="M814.9 413 V439.2 M866 413 V439.2" stroke="#333" stroke-width="1.63" fill="none" />
<line x1="803.6" y1="439.2" x2="866.6" y2="439.2" stroke="#222" stroke-width="2.58" />
<rect x="804.4" y="413.4" width="4" height="15" stroke="#3a3a3a" stroke-width="0.0" fill="#888" />
<rect x="804" y="427.6" width="5.6" height="10.6" stroke="#3a3a3a" stroke-width="0.0" fill="#262626" rx="1.5"/>
<rect x="809.4" y="431.6" width="5" height="6.8" stroke="#3a3a3a" stroke-width="0.0" fill="#262626" />
<rect x="811" y="433.4" width="1.6" height="1.6" stroke="#3a3a3a" stroke-width="0.0" fill="#ccc" />
<path d="M826.4 413.4 V426.2 A8.4 8.4 0 0 0 843.2 426.2 V413.4" stroke="#222" stroke-width="2.45" fill="none" />
<line x1="819" y1="435.6" x2="851" y2="435.6" stroke="#222" stroke-width="2.18" />
<rect x="849.4" y="413.4" width="5" height="10.4" stroke="#3a3a3a" stroke-width="0.0" fill="#2e2e2e" />
<rect x="855.6" y="430.6" width="7.4" height="7" stroke="#3a3a3a" stroke-width="0.0" fill="#2a2a2a" />
<line x1="860.6" y1="427.4" x2="860.6" y2="439" stroke="#333" stroke-width="1.77" />
<rect x="804.6" y="444.2" width="9.6" height="3.8" stroke="#4a4a4a" stroke-width="1.5" fill="#fff" />
<rect x="808.1" y="439.6" width="2.8" height="4.4" stroke="#3a3a3a" stroke-width="0.0" fill="#555" />
<rect x="830.2" y="444.2" width="9.6" height="3.8" stroke="#4a4a4a" stroke-width="1.5" fill="#fff" />
<rect x="833.7" y="439.6" width="2.8" height="4.4" stroke="#3a3a3a" stroke-width="0.0" fill="#555" />
<rect x="855.8" y="444.2" width="9.6" height="3.8" stroke="#4a4a4a" stroke-width="1.5" fill="#fff" />
<rect x="859.3" y="439.6" width="2.8" height="4.4" stroke="#3a3a3a" stroke-width="0.0" fill="#555" />
</g>
<g transform="translate(143 0)">
<rect x="794.6" y="317.6" width="5.2" height="2.4" stroke="#3a3a3a" stroke-width="0.0" fill="#333" />
<circle cx="797.2" cy="313.6" r="5.7" stroke="#3a3a3a" stroke-width="1.77" fill="#9a9a9a"/>
<circle cx="797.2" cy="313.6" r="3.1" stroke="#3a3a3a" stroke-width="1.5" fill="#fff"/>
<rect x="869.4" y="317.6" width="5.2" height="2.4" stroke="#3a3a3a" stroke-width="0.0" fill="#333" />
<circle cx="872" cy="313.6" r="5.7" stroke="#3a3a3a" stroke-width="1.77" fill="#9a9a9a"/>
<circle cx="872" cy="313.6" r="3.1" stroke="#3a3a3a" stroke-width="1.5" fill="#fff"/>
<rect x="807" y="313.6" width="56" height="2.8" stroke="#3a3a3a" stroke-width="0.0" fill="#1e1e1e" rx="1"/>
<rect x="810" y="316.4" width="50" height="3" stroke="#3a3a3a" stroke-width="0.0" fill="#aaa" />
<rect x="822.3" y="309.8" width="24" height="10.2" stroke="#3a3a3a" stroke-width="0.0" fill="#1e1e1e" />
<circle cx="834.4" cy="313.8" r="4.9" stroke="#8a8a8a" stroke-width="1.63" fill="#1e1e1e"/>
<rect x="830" y="316.8" width="9" height="1.2" stroke="#3a3a3a" stroke-width="0.0" fill="#777" />
<rect x="780" y="320" width="109.6" height="92.8" stroke="#262626" stroke-width="1.97" fill="#fff" />
<line x1="808.6" y1="320" x2="808.6" y2="413" stroke="#2e2e2e" stroke-width="1.9" />
<line x1="779.4" y1="345" x2="779.4" y2="375" stroke="#333" stroke-width="2.18" />
<line x1="890.2" y1="345" x2="890.2" y2="375" stroke="#333" stroke-width="2.18" />
<circle cx="791.2" cy="325.1" r="1.5" stroke="#3a3a3a" stroke-width="0.0" fill="#222"/>
<circle cx="796.7" cy="325.1" r="1.5" stroke="#3a3a3a" stroke-width="0.0" fill="#222"/>
<rect x="790.6" y="358" width="6.6" height="37" stroke="#3a3a3a" stroke-width="0.0" fill="#262626" />
<rect x="793.3" y="363.8" width="1.5" height="16.2" stroke="#3a3a3a" stroke-width="0.0" fill="#fff" />
<rect x="793.4" y="382" width="1.2" height="10" stroke="#3a3a3a" stroke-width="0.0" fill="#777" />
<circle cx="794.1" cy="337" r="4.2" stroke="#222" stroke-width="2.31" fill="#fff"/>
<line x1="791.2" y1="335" x2="797" y2="339" stroke="#2a2a2a" stroke-width="1.9" />
<circle cx="794.1" cy="346.3" r="4.2" stroke="#222" stroke-width="2.31" fill="#fff"/>
<line x1="791.2" y1="344.3" x2="797" y2="348.3" stroke="#2a2a2a" stroke-width="1.9" />
<circle cx="794.1" cy="355.6" r="4.2" stroke="#222" stroke-width="2.31" fill="#fff"/>
<line x1="791.2" y1="353.6" x2="797" y2="357.6" stroke="#2a2a2a" stroke-width="1.9" />
<path d="M787.6 413 V400.4 A6.4 6.4 0 0 1 800.4 400.4 V406 L798 408 V413 Z" stroke="#3a3a3a" stroke-width="0.0" fill="#222" />
<circle cx="793.9" cy="399.6" r="3.4" stroke="#ddd" stroke-width="1.36" fill="#fff"/>
<circle cx="793.9" cy="399.6" r="1.1" stroke="#3a3a3a" stroke-width="0.0" fill="#333"/>
<rect x="789.6" y="408" width="6" height="4.6" stroke="#3a3a3a" stroke-width="0.0" fill="#eee" />
<rect x="815.6" y="374.4" width="8.8" height="16.2" stroke="#3a3a3a" stroke-width="0.0" fill="#222" rx="4.4"/>
<path d="M817.8 381 V378.8 A2.2 2.2 0 0 1 822.2 378.8 V381 Z" stroke="#3a3a3a" stroke-width="0.0" fill="#fff" />
<rect x="818.6" y="386" width="2.4" height="1.6" stroke="#3a3a3a" stroke-width="0.0" fill="#777" />
<rect x="825.8" y="378.6" width="12.6" height="7.4" stroke="#3a3a3a" stroke-width="0.0" fill="#2a2a2a" />
<rect x="827.4" y="380.4" width="3.4" height="3.4" stroke="#3a3a3a" stroke-width="0.0" fill="#ddd" />
<line x1="832" y1="381.2" x2="837" y2="381.2" stroke="#ccc" stroke-width="1.09" />
<line x1="832" y1="383.6" x2="837" y2="383.6" stroke="#aaa" stroke-width="1.09" />
<circle cx="814.4" cy="394.4" r="4.1" stroke="#222" stroke-width="2.99" fill="#fff"/>
<rect x="802" y="389.4" width="4.8" height="5.8" stroke="#444" stroke-width="1.5" fill="#fff" />
<circle cx="804.3" cy="409.8" r="1.4" stroke="#3a3a3a" stroke-width="0.0" fill="#222"/>
<circle cx="814" cy="409.8" r="1.4" stroke="#3a3a3a" stroke-width="0.0" fill="#222"/>
<line x1="779.4" y1="412.7" x2="890.2" y2="412.7" stroke="#222" stroke-width="1.77" />
<path d="M780.4 413 V423.6 H815 M866 423.6 H889.4 V413" stroke="#333" stroke-width="1.63" fill="none" />
<line x1="780.2" y1="413" x2="780.2" y2="424" stroke="#2a2a2a" stroke-width="2.18" />
<line x1="889.6" y1="413" x2="889.6" y2="424" stroke="#2a2a2a" stroke-width="2.18" />
<line x1="789.6" y1="413" x2="789.6" y2="423.6" stroke="#444" stroke-width="1.36" />
<line x1="801.6" y1="413" x2="801.6" y2="423.6" stroke="#444" stroke-width="1.36" />
<rect x="787.6" y="419.4" width="7.6" height="5" stroke="#3a3a3a" stroke-width="0.0" fill="#262626" rx="1.5"/>
<path d="M784.4 424.6 H798.4 L799.6 432.5 L801.0 434.4 V441.4 L798.0 444 H784.8 L781.8 441.4 V434.4 L783.1999999999999 432.5 Z" stroke="#3a3a3a" stroke-width="0.0" fill="#282828" />
<rect x="788.6999999999999" y="434" width="5.4" height="14" stroke="#242424" stroke-width="1.22" fill="#f2f2f2" rx="1.6"/>
<rect x="786.0" y="429" width="10.8" height="1" stroke="#3a3a3a" stroke-width="0.0" fill="#8a8a8a" />
<rect x="786.4" y="431.4" width="10" height="0.8" stroke="#3a3a3a" stroke-width="0.0" fill="#666" />
<rect x="783.6" y="436.4" width="1.4" height="2.8" stroke="#3a3a3a" stroke-width="0.0" fill="#ddd" />
<rect x="797.8" y="436.4" width="1.4" height="2.8" stroke="#3a3a3a" stroke-width="0.0" fill="#ddd" />
<rect x="785.8" y="439.4" width="1.4" height="2.4" stroke="#3a3a3a" stroke-width="0.0" fill="#bbb" />
<rect x="795.6" y="439.4" width="1.4" height="2.4" stroke="#3a3a3a" stroke-width="0.0" fill="#bbb" />
<rect x="873.8000000000001" y="419.4" width="7.6" height="5" stroke="#3a3a3a" stroke-width="0.0" fill="#262626" rx="1.5"/>
<path d="M870.6 424.6 H884.6 L885.8000000000001 432.5 L887.2 434.4 V441.4 L884.2 444 H871.0 L868.0 441.4 V434.4 L869.4 432.5 Z" stroke="#3a3a3a" stroke-width="0.0" fill="#282828" />
<rect x="874.9" y="434" width="5.4" height="14" stroke="#242424" stroke-width="1.22" fill="#f2f2f2" rx="1.6"/>
<rect x="872.2" y="429" width="10.8" height="1" stroke="#3a3a3a" stroke-width="0.0" fill="#8a8a8a" />
<rect x="872.6" y="431.4" width="10" height="0.8" stroke="#3a3a3a" stroke-width="0.0" fill="#666" />
<rect x="869.8000000000001" y="436.4" width="1.4" height="2.8" stroke="#3a3a3a" stroke-width="0.0" fill="#ddd" />
<rect x="884.0" y="436.4" width="1.4" height="2.8" stroke="#3a3a3a" stroke-width="0.0" fill="#ddd" />
<rect x="872.0" y="439.4" width="1.4" height="2.4" stroke="#3a3a3a" stroke-width="0.0" fill="#bbb" />
<rect x="881.8000000000001" y="439.4" width="1.4" height="2.4" stroke="#3a3a3a" stroke-width="0.0" fill="#bbb" />
<path d="M814.9 413 V439.2 M866 413 V439.2" stroke="#333" stroke-width="1.63" fill="none" />
<line x1="803.6" y1="439.2" x2="866.6" y2="439.2" stroke="#222" stroke-width="2.58" />
<rect x="804.4" y="413.4" width="4" height="15" stroke="#3a3a3a" stroke-width="0.0" fill="#888" />
<rect x="804" y="427.6" width="5.6" height="10.6" stroke="#3a3a3a" stroke-width="0.0" fill="#262626" rx="1.5"/>
<rect x="809.4" y="431.6" width="5" height="6.8" stroke="#3a3a3a" stroke-width="0.0" fill="#262626" />
<rect x="811" y="433.4" width="1.6" height="1.6" stroke="#3a3a3a" stroke-width="0.0" fill="#ccc" />
<path d="M826.4 413.4 V426.2 A8.4 8.4 0 0 0 843.2 426.2 V413.4" stroke="#222" stroke-width="2.45" fill="none" />
<line x1="819" y1="435.6" x2="851" y2="435.6" stroke="#222" stroke-width="2.18" />
<rect x="849.4" y="413.4" width="5" height="10.4" stroke="#3a3a3a" stroke-width="0.0" fill="#2e2e2e" />
<rect x="855.6" y="430.6" width="7.4" height="7" stroke="#3a3a3a" stroke-width="0.0" fill="#2a2a2a" />
<line x1="860.6" y1="427.4" x2="860.6" y2="439" stroke="#333" stroke-width="1.77" />
<rect x="804.6" y="444.2" width="9.6" height="3.8" stroke="#4a4a4a" stroke-width="1.5" fill="#fff" />
<rect x="808.1" y="439.6" width="2.8" height="4.4" stroke="#3a3a3a" stroke-width="0.0" fill="#555" />
<rect x="830.2" y="444.2" width="9.6" height="3.8" stroke="#4a4a4a" stroke-width="1.5" fill="#fff" />
<rect x="833.7" y="439.6" width="2.8" height="4.4" stroke="#3a3a3a" stroke-width="0.0" fill="#555" />
<rect x="855.8" y="444.2" width="9.6" height="3.8" stroke="#4a4a4a" stroke-width="1.5" fill="#fff" />
<rect x="859.3" y="439.6" width="2.8" height="4.4" stroke="#3a3a3a" stroke-width="0.0" fill="#555" />
</g>
<rect x="890.2" y="372.6" width="10.8" height="7.4" stroke="#444" stroke-width="1.5" fill="#fff" />
<line x1="895.6" y1="380" x2="895.6" y2="413" stroke="#555" stroke-width="1.36" />
<line x1="759.7" y1="413" x2="759.7" y2="421" stroke="#3a3a3a" stroke-width="1.5" />
<line x1="769.3" y1="413" x2="769.3" y2="421" stroke="#3a3a3a" stroke-width="1.5" />
<rect x="755.5" y="413.6" width="4" height="7.4" stroke="#333" stroke-width="1.5" fill="#777" rx="1.4"/>
<rect x="769.5" y="413.6" width="4" height="7.4" stroke="#333" stroke-width="1.5" fill="#777" rx="1.4"/>
<rect x="757.1" y="420.8" width="14.8" height="18.6" stroke="#3a3a3a" stroke-width="0.0" fill="#2a2a2a" />
<rect x="755.5" y="433.6" width="18" height="5" stroke="#3a3a3a" stroke-width="0.0" fill="#2a2a2a" rx="1.5"/>
<rect x="760.5" y="423" width="8" height="1.5" stroke="#3a3a3a" stroke-width="0.0" fill="#f0f0f0" />
<rect x="761.1" y="427" width="2.4" height="1" stroke="#3a3a3a" stroke-width="0.0" fill="#ccc" />
<rect x="765.5" y="427" width="2.4" height="1" stroke="#3a3a3a" stroke-width="0.0" fill="#ccc" />
<rect x="762.9" y="428.6" width="3.2" height="10" stroke="#3a3a3a" stroke-width="0.0" fill="#1a1a1a" />
<rect x="759.1" y="439" width="10.8" height="3.2" stroke="#3a3a3a" stroke-width="0.0" fill="#333" />
<rect x="754.5" y="442.3" width="20" height="5.6" stroke="#2e2e2e" stroke-width="1.77" fill="#9a9a9a" rx="2"/>
<line x1="901.0" y1="413" x2="901.0" y2="421" stroke="#3a3a3a" stroke-width="1.5" />
<line x1="910.5999999999999" y1="413" x2="910.5999999999999" y2="421" stroke="#3a3a3a" stroke-width="1.5" />
<rect x="896.8" y="413.6" width="4" height="7.4" stroke="#333" stroke-width="1.5" fill="#777" rx="1.4"/>
<rect x="910.8" y="413.6" width="4" height="7.4" stroke="#333" stroke-width="1.5" fill="#777" rx="1.4"/>
<rect x="898.4" y="420.8" width="14.8" height="18.6" stroke="#3a3a3a" stroke-width="0.0" fill="#2a2a2a" />
<rect x="896.8" y="433.6" width="18" height="5" stroke="#3a3a3a" stroke-width="0.0" fill="#2a2a2a" rx="1.5"/>
<rect x="901.8" y="423" width="8" height="1.5" stroke="#3a3a3a" stroke-width="0.0" fill="#f0f0f0" />
<rect x="902.4" y="427" width="2.4" height="1" stroke="#3a3a3a" stroke-width="0.0" fill="#ccc" />
<rect x="906.8" y="427" width="2.4" height="1" stroke="#3a3a3a" stroke-width="0.0" fill="#ccc" />
<rect x="904.1999999999999" y="428.6" width="3.2" height="10" stroke="#3a3a3a" stroke-width="0.0" fill="#1a1a1a" />
<rect x="900.4" y="439" width="10.8" height="3.2" stroke="#3a3a3a" stroke-width="0.0" fill="#333" />
<rect x="895.8" y="442.3" width="20" height="5.6" stroke="#2e2e2e" stroke-width="1.77" fill="#9a9a9a" rx="2"/>
<line x1="888" y1="447.6" x2="897" y2="447.6" stroke="#333" stroke-width="1.63" />
</svg>
</body>
</html>
